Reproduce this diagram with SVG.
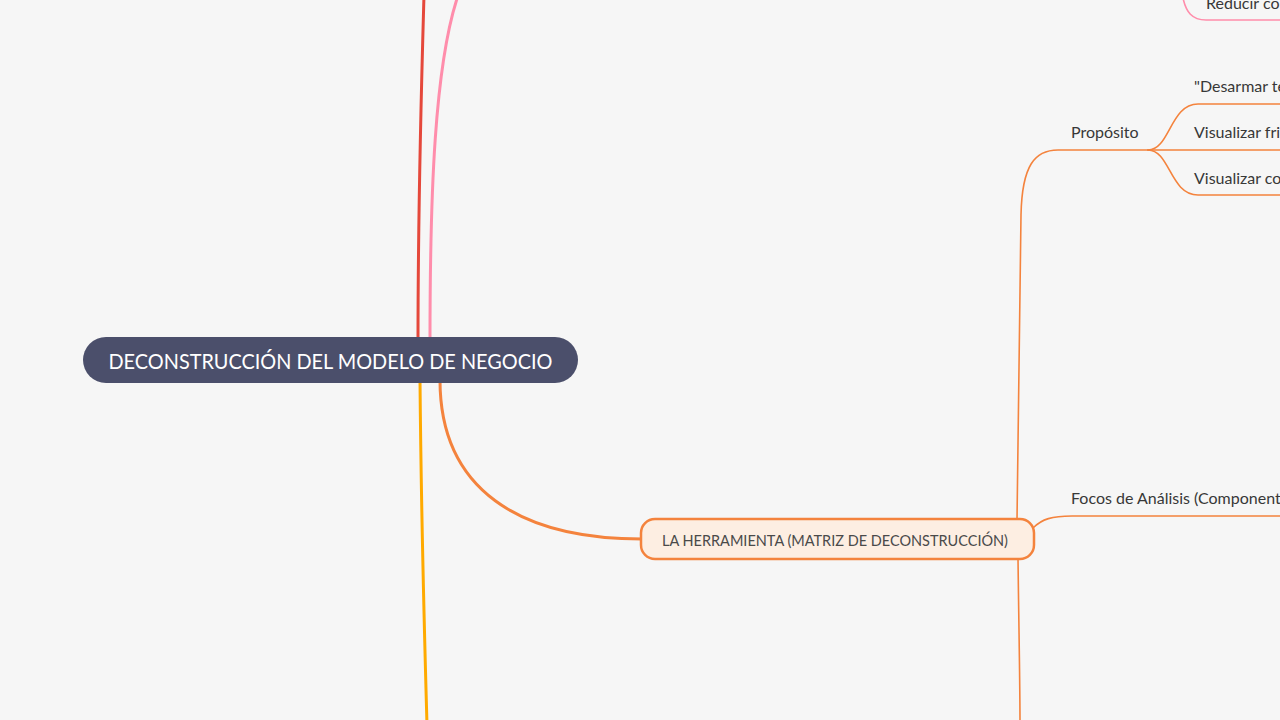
<svg xmlns="http://www.w3.org/2000/svg" width="1280" height="720" viewBox="0 0 1280 720">
<style>
text{font-family:Lato,"Noto Sans","Liberation Sans",sans-serif;}
.br{fill:none;stroke-width:3;stroke-linecap:round}
.sub{fill:none;stroke-width:1.6;stroke-linecap:round}
.or{stroke:#f4833d}
.lbl{font-size:16px;fill:#383838}
</style>
<rect width="1280" height="720" fill="#f6f6f6"/>
<g id="connectors">
<path class="br" stroke="#e5483b" d="M418,340 C418,200 421,100 424,-5"/>
<path class="br" stroke="#ff8dab" d="M430,340 C430,200 434,60 460,-10"/>
<path class="br" stroke="#ffaa00" d="M420,380 C421,500 424,620 427,725"/>
<path class="br or" d="M440,380 C440,490 520,539 642,539"/>
<path class="sub or" d="M1017,520 L1021,215 C1022,165 1035,150 1058,150 L1148,150"/>
<path class="sub or" d="M1148,150 C1170,150 1170,104 1198,104 L1285,104"/>
<path class="sub or" d="M1148,150 L1285,150"/>
<path class="sub or" d="M1148,150 C1170,150 1170,195 1198,195 L1285,195"/>
<path class="sub or" d="M1033,528 C1042,519 1052,516 1072,516 L1285,516"/>
<path class="sub or" d="M1018,558 C1019,640 1020,680 1020,725"/>
<path class="sub" stroke="#ff8dab" d="M1183,-2 C1186,12 1192,20 1206,20 L1285,20"/>
</g>
<g id="root">
<rect x="83" y="337" width="495" height="46" rx="23" fill="#4b4f6b"/>
<text x="330.5" y="369" text-anchor="middle" font-size="21" fill="#ffffff" textLength="444" lengthAdjust="spacingAndGlyphs">DECONSTRUCCIÓN DEL MODELO DE NEGOCIO</text>
</g>
<g id="herramienta">
<rect x="641" y="519" width="393" height="40" rx="14" fill="#fdeee2" stroke="#f4833d" stroke-width="2.5"/>
<text x="835" y="546" text-anchor="middle" font-size="15" fill="#4a4a4a" textLength="346" lengthAdjust="spacingAndGlyphs">LA HERRAMIENTA (MATRIZ DE DECONSTRUCCIÓN)</text>
</g>
<g id="proposito"><text class="lbl" x="1071" y="138">Propósito</text></g>
<g id="desarmar"><text class="lbl" x="1194" y="92">"Desarmar te</text></g>
<g id="visualizar1"><text class="lbl" x="1194" y="138">Visualizar fri</text></g>
<g id="visualizar2"><text class="lbl" x="1194" y="184">Visualizar co</text></g>
<g id="focos"><text class="lbl" x="1071" y="504">Focos de Análisis (Componentes)</text></g>
<g id="reducir"><text class="lbl" x="1206" y="9">Reducir co</text></g>
</svg>
